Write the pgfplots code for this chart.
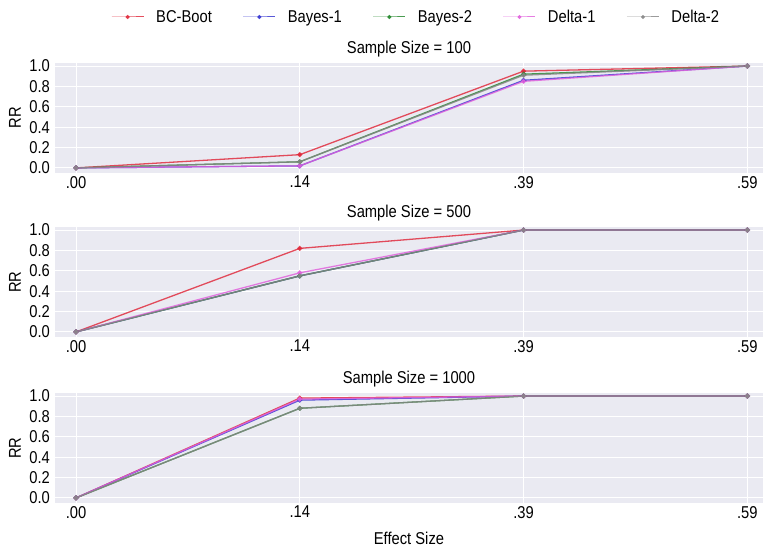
\documentclass[border=0pt]{standalone}
\usepackage{fontspec}
\setmainfont{Liberation Sans}[FakeStretch=0.86]
\usepackage{pgfplots}
\usepackage{pgfplotstable}
\pgfplotsset{compat=1.18}

\definecolor{panelbg}{HTML}{EAEAF2}
\definecolor{cBC}{HTML}{E0283A}
\definecolor{cBayesA}{HTML}{3434D0}
\definecolor{cBayesB}{HTML}{22862A}
\definecolor{cDeltaA}{HTML}{E060DC}
\definecolor{cDeltaB}{HTML}{858585}

\newcommand{\chartfont}{\fontsize{17.2}{19}\selectfont}

% rejection rate by effect size (x = category index 0..3)
\pgfplotstableread{
x  bc    ba    bb    da    db
0  0.00  0.00  0.00  0.00  0.00
1  0.13  0.02  0.06  0.02  0.06
2  0.95  0.86  0.92  0.85  0.91
3  1.00  1.00  1.00  1.00  1.00
}\nhundred
\pgfplotstableread{
x  bc    ba    bb    da    db
0  0.00  0.00  0.00  0.00  0.00
1  0.82  0.55  0.55  0.58  0.55
2  1.00  1.00  1.00  1.00  1.00
3  1.00  1.00  1.00  1.00  1.00
}\nfivehundred
\pgfplotstableread{
x  bc    ba    bb    da    db
0  0.00  0.00  0.00  0.00  0.00
1  0.98  0.96  0.88  0.97  0.88
2  1.00  1.00  1.00  1.00  1.00
3  1.00  1.00  1.00  1.00  1.00
}\nthousand

\pgfplotsset{
  rrpanel/.style={
    scale only axis,
    width=708bp, height=110bp,
    xmin=-0.094, xmax=3.07,
    ymin=-0.05, ymax=1.03,
    xtick={0,1,2,3},
    xticklabels={.00,.14,.39,.59},
    ytick={0,0.2,0.4,0.6,0.8,1.0},
    /pgf/number format/fixed,
    /pgf/number format/fixed zerofill,
    /pgf/number format/precision=1,
    /pgf/number format/assume math mode=true,
    axis background/.style={fill=panelbg},
    axis line style={draw=none},
    major tick length=0pt,
    grid=major,
    grid style={white, line width=1bp},
    tick label style={font=\chartfont},
    xticklabel style={inner sep=0pt, yshift=-3bp},
    yticklabel style={inner sep=0pt, xshift=-5bp},
    ylabel={RR},
    ylabel style={font=\chartfont, at={(axis description cs:-0.0565,0.5)}, anchor=center},
    title style={font=\chartfont, at={(0.5,1)}, anchor=south, inner sep=0pt, yshift=-0.5bp},
    clip=false,
    every axis plot/.append style={line width=1.3bp, mark=*, mark size=1.8bp, opacity=0.82},
  },
}

\begin{document}
\begin{tikzpicture}
\useasboundingbox (0,0) rectangle (767bp,551bp);

\begin{axis}[rrpanel, at={(55bp,378bp)}, anchor=south west,
  title={Sample Size = 100},
  legend columns=5,
  legend style={at={(0.51,1)}, anchor=center, yshift=46bp, draw=none, fill=none,
    font=\chartfont,
    /tikz/every odd column/.append style={column sep=10bp},
    /tikz/every even column/.append style={column sep=29bp}},
  legend image code/.code={\draw[mark repeat=2,mark phase=2,line width=1bp,mark size=1.5bp] plot coordinates {(0bp,0bp) (16bp,0bp) (32bp,0bp)};},
]
\addplot[cBC, mark options={fill=cBC}] table[x=x, y=bc] {\nhundred};
\addlegendentry{BC-Boot}
\addplot[cBayesA, mark options={fill=cBayesA}] table[x=x, y=ba] {\nhundred};
\addlegendentry{Bayes-1}
\addplot[cBayesB, mark options={fill=cBayesB}] table[x=x, y=bb] {\nhundred};
\addlegendentry{Bayes-2}
\addplot[cDeltaA, mark options={fill=cDeltaA}] table[x=x, y=da] {\nhundred};
\addlegendentry{Delta-1}
\addplot[cDeltaB, mark options={fill=cDeltaB}] table[x=x, y=db] {\nhundred};
\addlegendentry{Delta-2}
\end{axis}

\begin{axis}[rrpanel, at={(55bp,214bp)}, anchor=south west,
  title={Sample Size = 500}]
\addplot[cBC, mark options={fill=cBC}] table[x=x, y=bc] {\nfivehundred};
\addplot[cBayesA, mark options={fill=cBayesA}] table[x=x, y=ba] {\nfivehundred};
\addplot[cBayesB, mark options={fill=cBayesB}] table[x=x, y=bb] {\nfivehundred};
\addplot[cDeltaA, mark options={fill=cDeltaA}] table[x=x, y=da] {\nfivehundred};
\addplot[cDeltaB, mark options={fill=cDeltaB}] table[x=x, y=db] {\nfivehundred};
\end{axis}

\begin{axis}[rrpanel, at={(55bp,48bp)}, anchor=south west,
  title={Sample Size = 1000},
  xlabel={Effect Size},
  xlabel style={font=\chartfont, at={(axis description cs:0.5,-0.318)}, anchor=center}]
\addplot[cBC, mark options={fill=cBC}] table[x=x, y=bc] {\nthousand};
\addplot[cBayesA, mark options={fill=cBayesA}] table[x=x, y=ba] {\nthousand};
\addplot[cBayesB, mark options={fill=cBayesB}] table[x=x, y=bb] {\nthousand};
\addplot[cDeltaA, mark options={fill=cDeltaA}] table[x=x, y=da] {\nthousand};
\addplot[cDeltaB, mark options={fill=cDeltaB}] table[x=x, y=db] {\nthousand};
\end{axis}
\end{tikzpicture}
\end{document}
